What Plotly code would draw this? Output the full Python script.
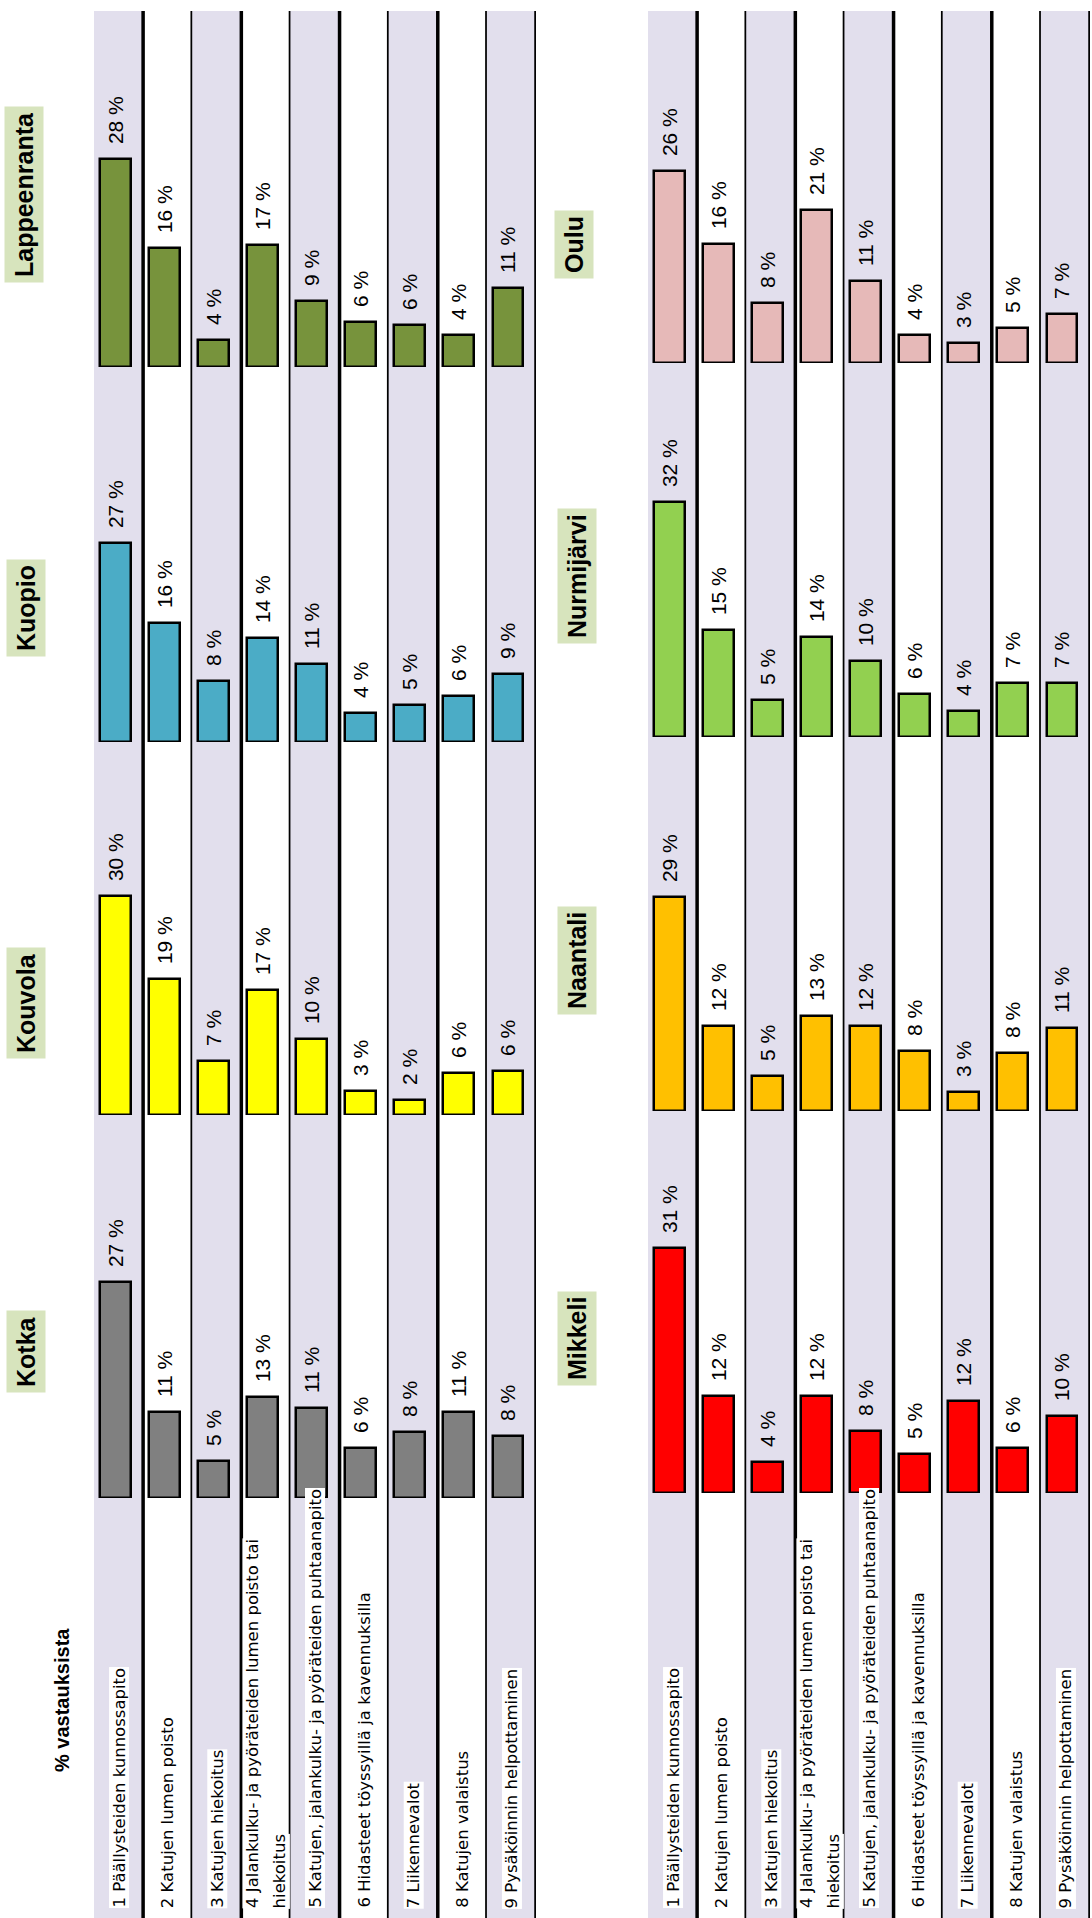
import plotly.graph_objects as go

# ---------------- data ----------------
categories = [
    "1 Päällysteiden kunnossapito",
    "2 Katujen lumen poisto",
    "3 Katujen hiekoitus",
    "4 Jalankulku- ja pyöräteiden lumen poisto tai<br>hiekoitus",
    "5 Katujen, jalankulku- ja pyöräteiden puhtaanapito",
    "6 Hidasteet töyssyillä ja kavennuksilla",
    "7 Liikennevalot",
    "8 Katujen valaistus",
    "9 Pysäköinnin helpottaminen",
]

cities = ["Lappeenranta", "Kuopio", "Kouvola", "Kotka",
          "Oulu", "Nurmijärvi", "Naantali", "Mikkeli"]

lappeenranta = [28.2, 16.1, 3.7, 16.6, 9.0, 6.1, 5.7, 4.4, 10.7]
kuopio       = [27.0, 16.1, 8.3, 14.1, 10.6, 3.9, 5.0, 6.2, 9.2]
kouvola      = [29.9, 18.6, 7.3, 17.1, 10.4, 3.3, 2.1, 5.7, 6.0]
kotka        = [27.0, 10.7, 4.6, 12.6, 11.3, 6.3, 8.3, 10.7, 7.7]
oulu         = [26.1, 16.1, 8.2, 20.8, 11.1, 3.8, 2.7, 4.7, 6.6]
nurmijarvi   = [32.0, 14.6, 5.0, 13.6, 10.4, 5.9, 3.6, 7.3, 7.4]
naantali     = [29.1, 11.6, 4.7, 12.9, 11.6, 8.2, 2.6, 7.9, 11.3]
mikkeli      = [31.0, 12.3, 3.9, 12.3, 7.8, 4.9, 11.6, 5.7, 9.8]

series = [lappeenranta, kuopio, kouvola, kotka, oulu, nurmijarvi, naantali, mikkeli]
y_title = "% vastauksista"

# ---------------- styling / layout ----------------
W, H = 1092, 1918
colors = ["#77933c", "#4bacc6", "#ffff00", "#808080",
          "#e6b9b8", "#92d050", "#ffc000", "#ff0000"]
# pixel geometry of each panel: (x-axis id, baseline px, px per percent, title centre x, title centre y)
panel_geo = [
    ("x", 367, 7.37, 24, 195),
    ("x", 742, 7.37, 26, 608),
    ("x", 1115, 7.33, 26, 1003),
    ("x", 1498, 8.0, 26, 1352),
    ("x2", 363, 7.37, 574, 245),
    ("x2", 737, 7.33, 577, 576),
    ("x2", 1111, 7.37, 577, 961),
    ("x2", 1493, 7.9, 577, 1339),
]
half_x = {"x": (94, 536), "x2": (648, 1090)}
PANEL_H = 270
STRIPE = "#e2dfed"
TITLE_BG = "#d7e4bd"
TOP_PX = 11


def px_x(p):
    return p / W


def px_y(p):
    return 1 - p / H


fig = go.Figure()
layout = dict(
    width=W, height=H,
    margin=dict(l=0, r=0, t=0, b=0),
    paper_bgcolor="white", plot_bgcolor="rgba(0,0,0,0)",
    showlegend=False, bargap=0,
)

for axid, (x0, x1) in half_x.items():
    key = "xaxis" if axid == "x" else "xaxis2"
    layout[key] = dict(domain=[px_x(x0), px_x(x1)], range=[-0.5, len(categories) - 0.5],
                       type="category", visible=False, fixedrange=True,
                       anchor="y" if axid == "x" else "y5")

for i, (city, vals, col, geo) in enumerate(zip(cities, series, colors, panel_geo)):
    axid, base, ppp, tx, ty = geo
    yid = "y" if i == 0 else f"y{i+1}"
    ykey = "yaxis" if i == 0 else f"yaxis{i+1}"
    layout[ykey] = dict(domain=[px_y(base), px_y(base - PANEL_H)],
                        range=[0, PANEL_H / ppp], visible=False, fixedrange=True,
                        anchor=axid)
    fig.add_trace(go.Bar(
        x=categories, y=vals, xaxis=axid, yaxis=yid,
        width=0.63, offset=-0.385,
        marker=dict(color=col, line=dict(color="black", width=2.5)),
        texttemplate="\u00a0\u00a0%{y:.0f} %", textposition="outside",
        textangle=-90, constraintext="none", cliponaxis=False,
        textfont=dict(family="Liberation Sans, Arial", size=21, color="black"),
        hoverinfo="skip",
    ))

fig.update_layout(**layout)

shapes = []
annotations = []
for axid in half_x:
    for k in range(len(categories)):
        if k % 2 == 0:
            shapes.append(dict(type="rect", xref=axid, yref="paper", x0=k - 0.5, x1=k + 0.5,
                               y0=0, y1=px_y(TOP_PX), fillcolor=STRIPE, line=dict(width=0),
                               layer="below"))
        shapes.append(dict(type="line", xref=axid, yref="paper", x0=k + 0.5, x1=k + 0.5,
                           y0=0, y1=px_y(TOP_PX), line=dict(color="black", width=3.5),
                           layer="below"))
        lines = categories[k].split("<br>")
        n = len(lines)
        for j, ln in enumerate(lines):
            annotations.append(dict(
                xref=axid, yref="paper", x=k, y=px_y(1909),
                xanchor="center", yanchor="bottom", xshift=(j - (n - 1) / 2) * 27,
                text=ln, textangle=-90, showarrow=False, bgcolor="white", borderpad=0,
                font=dict(family="DejaVu Sans", size=16.5, color="black")))

for city, geo in zip(cities, panel_geo):
    _, _, _, tx, ty = geo
    annotations.append(dict(
        xref="paper", yref="paper", x=px_x(tx), y=px_y(ty), xanchor="center", yanchor="middle",
        text=f"<b>{city}</b>", textangle=-90, showarrow=False, bgcolor=TITLE_BG, borderpad=5,
        font=dict(family="Liberation Sans, Arial", size=25, color="black")))

annotations.append(dict(
    xref="paper", yref="paper", x=px_x(62), y=px_y(1700), xanchor="center", yanchor="middle",
    text=f"<b>{y_title}</b>", textangle=-90, showarrow=False,
    font=dict(family="Liberation Sans, Arial", size=20, color="black")))

fig.update_layout(shapes=shapes, annotations=annotations)
fig.write_html(
    "out.html",
    config={"displayModeBar": False},
    post_script="document.body.style.margin='0';document.body.style.overflow='hidden';",
)
